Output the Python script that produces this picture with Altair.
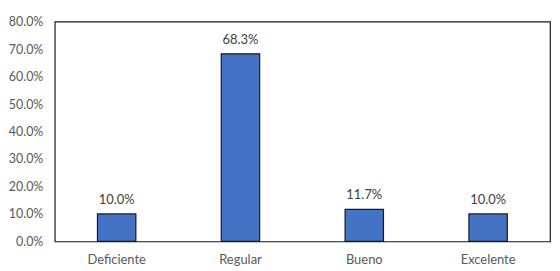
import altair as alt
import pandas as pd

categories = ["Deficiente", "Regular", "Bueno", "Excelente"]
values = [0.100, 0.683, 0.117, 0.100]

df = pd.DataFrame({"cat": categories, "val": values})

FONT = "Lato"

x = alt.X("cat:N", sort=categories, title=None,
          scale=alt.Scale(paddingInner=0.69, paddingOuter=0.345),
          axis=alt.Axis(labelAngle=0, ticks=False, domain=False, labelPadding=12,
                        labelFontSize=13, labelColor="#595959", labelFont=FONT))
y = alt.Y("val:Q", title=None,
          scale=alt.Scale(domain=[0, 0.8], nice=False),
          axis=alt.Axis(format=".1%", values=[0, 0.1, 0.2, 0.3, 0.4, 0.5, 0.6, 0.7, 0.8],
                        grid=False, ticks=False, domain=False, labelPadding=12,
                        labelFontSize=12.5, labelColor="#595959", labelFont=FONT))

bars = alt.Chart(df).mark_bar(color="#4472C4", stroke="#1a1a1a", strokeWidth=1.2).encode(x=x, y=y)
labels = alt.Chart(df).mark_text(dy=-14, fontSize=13, color="#404040", font=FONT).encode(
    x=x, y=y, text=alt.Text("val:Q", format=".1%"))

chart = (bars + labels).properties(
    width=498, height=221,
    autosize=alt.AutoSizeParams(type="none"),
    padding={"left": 47, "top": 13, "right": 2, "bottom": 30},
).configure_view(stroke="#1a1a1a", strokeWidth=1.2)

chart.save("out.html", embed_options={"renderer": "svg", "actions": False})
